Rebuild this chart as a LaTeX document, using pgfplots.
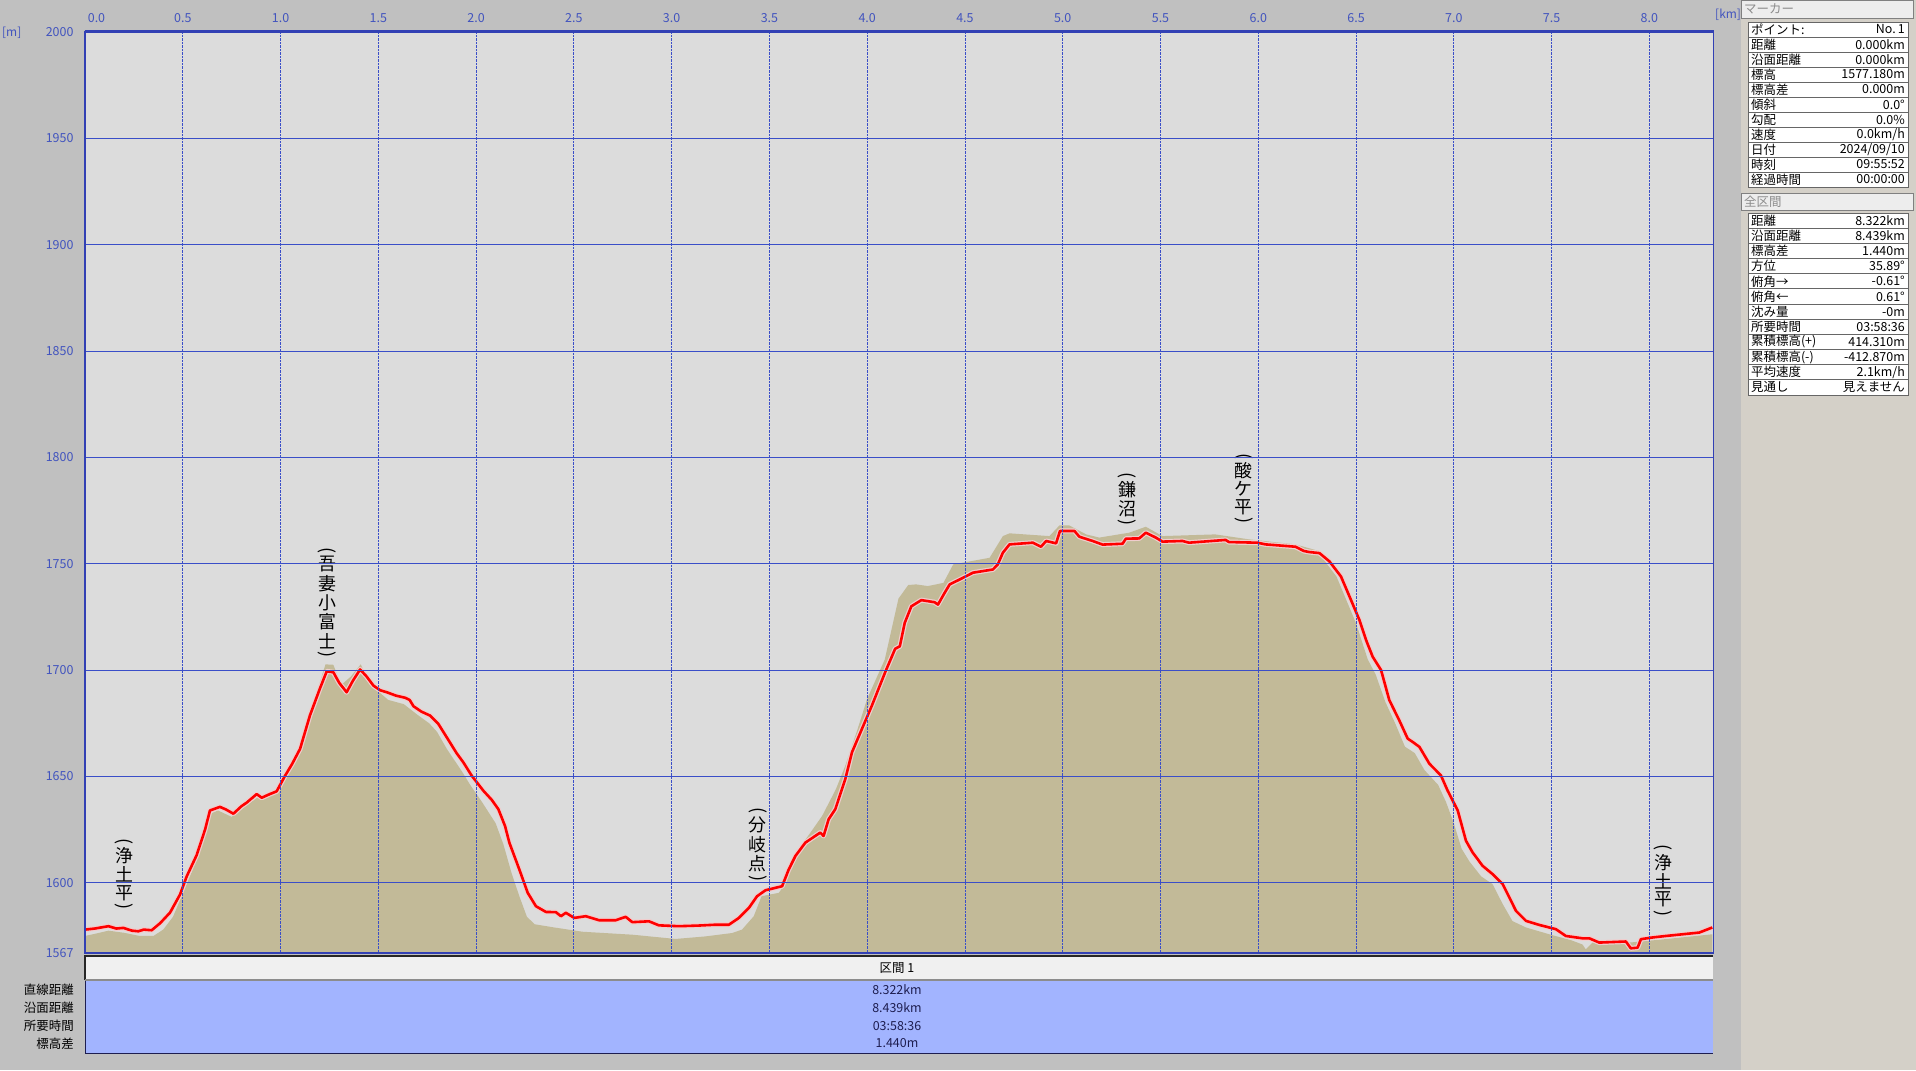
\documentclass[border=0pt]{standalone}
\usepackage{pgfplots}
\usepackage{pgfplotstable}
\pgfplotsset{compat=1.18}
\usepackage{graphicx}
\usepackage{fontspec}
\setmainfont{Noto Sans CJK JP}
\definecolor{bg}{RGB}{192,192,192}
\definecolor{panelbg}{RGB}{212,208,200}
\definecolor{plotbg}{RGB}{220,220,220}
\definecolor{gridblue}{RGB}{58,78,200}
\definecolor{axisblue}{RGB}{50,64,180}
\definecolor{ticklbl}{RGB}{66,84,190}
\definecolor{terrain}{RGB}{194,186,152}
\definecolor{bandblue}{RGB}{162,180,255}
\definecolor{navy}{RGB}{30,30,80}
\definecolor{halo}{RGB}{240,205,205}

\pgfplotstableread{
x y
0.000 1578.0
0.050 1578.5
0.120 1579.6
0.160 1578.5
0.196 1578.8
0.240 1577.5
0.273 1577.2
0.300 1578.0
0.341 1577.7
0.384 1581.0
0.435 1586.0
0.486 1594.5
0.520 1603.0
0.571 1613.0
0.614 1625.0
0.639 1634.0
0.690 1635.7
0.720 1634.5
0.759 1632.5
0.800 1636.0
0.827 1637.7
0.878 1641.7
0.904 1640.0
0.940 1641.5
0.980 1643.0
1.023 1650.3
1.060 1656.0
1.100 1663.0
1.150 1678.6
1.200 1691.0
1.236 1699.4
1.270 1699.0
1.300 1694.0
1.338 1689.6
1.370 1695.0
1.407 1700.3
1.440 1697.0
1.475 1692.7
1.510 1690.5
1.543 1689.6
1.590 1688.0
1.637 1687.0
1.660 1686.0
1.680 1683.0
1.720 1680.5
1.765 1678.6
1.807 1674.7
1.850 1668.4
1.900 1661.0
1.935 1656.6
1.978 1650.3
2.038 1643.2
2.080 1639.0
2.114 1634.6
2.148 1626.7
2.170 1618.9
2.221 1606.3
2.264 1595.3
2.306 1589.0
2.357 1586.3
2.408 1586.2
2.434 1584.3
2.459 1585.9
2.502 1583.5
2.561 1584.3
2.629 1582.4
2.714 1582.4
2.765 1584.0
2.799 1581.5
2.884 1581.9
2.935 1580.0
3.037 1579.6
3.139 1579.9
3.224 1580.3
3.293 1580.3
3.344 1583.5
3.395 1588.2
3.437 1593.7
3.480 1596.5
3.565 1598.4
3.599 1606.3
3.633 1612.6
3.684 1618.9
3.760 1623.6
3.777 1622.0
3.803 1629.9
3.837 1634.6
3.888 1648.7
3.922 1661.3
3.973 1672.3
4.024 1683.3
4.092 1699.0
4.143 1710.0
4.167 1711.2
4.192 1722.2
4.226 1730.0
4.277 1732.9
4.345 1731.9
4.362 1730.8
4.396 1736.3
4.422 1740.3
4.473 1742.6
4.541 1745.8
4.643 1747.3
4.668 1749.7
4.694 1755.2
4.728 1759.1
4.847 1759.9
4.889 1758.0
4.915 1760.7
4.966 1759.6
4.986 1765.4
5.060 1765.4
5.085 1762.7
5.153 1760.7
5.204 1759.0
5.306 1759.4
5.323 1761.8
5.391 1761.9
5.425 1764.6
5.476 1762.3
5.510 1760.4
5.612 1760.7
5.646 1759.9
5.833 1761.2
5.850 1760.2
5.995 1759.9
6.037 1759.1
6.190 1758.0
6.233 1756.0
6.261 1755.5
6.313 1755.0
6.364 1751.1
6.423 1744.0
6.474 1733.0
6.517 1723.6
6.551 1714.2
6.585 1706.3
6.628 1700.0
6.670 1685.9
6.721 1676.4
6.764 1667.8
6.790 1666.2
6.824 1663.9
6.875 1656.0
6.934 1650.5
6.968 1643.4
7.020 1634.0
7.062 1619.8
7.096 1614.3
7.147 1608.0
7.198 1604.1
7.250 1599.4
7.318 1586.8
7.369 1582.1
7.437 1580.2
7.522 1578.2
7.573 1575.0
7.658 1573.9
7.693 1573.9
7.744 1571.9
7.880 1572.4
7.905 1569.2
7.940 1569.5
7.957 1573.5
8.016 1574.3
8.084 1575.0
8.255 1576.6
8.322 1579.0
}\redtrack

\pgfplotstableread{
x y
0.000 1575.0
0.050 1576.0
0.120 1577.5
0.200 1576.5
0.280 1575.0
0.350 1575.0
0.400 1578.0
0.450 1584.0
0.500 1595.0
0.550 1606.0
0.600 1622.0
0.630 1632.0
0.680 1634.0
0.750 1631.0
0.820 1636.0
0.880 1640.0
0.980 1642.0
1.020 1649.0
1.100 1664.0
1.150 1680.0
1.200 1694.0
1.230 1702.7
1.270 1702.5
1.310 1693.0
1.360 1697.0
1.410 1702.7
1.450 1695.0
1.500 1690.0
1.550 1686.0
1.630 1684.0
1.700 1679.0
1.760 1675.0
1.800 1671.0
1.850 1663.0
1.930 1652.0
1.970 1646.0
2.030 1638.0
2.100 1628.0
2.140 1618.0
2.180 1605.0
2.220 1594.0
2.260 1584.0
2.300 1580.5
2.400 1579.0
2.544 1577.0
2.800 1575.6
3.020 1573.6
3.173 1574.8
3.310 1576.4
3.360 1578.0
3.420 1584.3
3.460 1593.7
3.548 1595.3
3.573 1598.4
3.620 1612.0
3.710 1623.6
3.770 1631.5
3.840 1644.0
3.888 1655.0
3.950 1672.0
4.000 1686.5
4.090 1705.0
4.160 1733.6
4.210 1740.0
4.250 1740.3
4.310 1739.5
4.390 1741.0
4.440 1749.7
4.626 1752.8
4.694 1763.0
4.728 1764.3
4.932 1763.0
4.983 1768.0
5.034 1768.0
5.120 1763.8
5.187 1762.3
5.340 1764.6
5.425 1767.4
5.510 1763.0
5.780 1763.8
5.950 1761.5
6.190 1759.1
6.310 1756.0
6.350 1750.0
6.400 1744.0
6.450 1733.0
6.500 1722.0
6.560 1705.0
6.600 1698.0
6.650 1685.0
6.700 1675.0
6.750 1664.0
6.800 1661.0
6.850 1653.0
6.920 1646.0
6.960 1638.0
7.000 1628.0
7.040 1616.0
7.080 1610.0
7.140 1603.0
7.198 1599.4
7.250 1590.0
7.300 1582.0
7.369 1579.0
7.488 1575.8
7.600 1573.0
7.658 1571.0
7.675 1568.7
7.710 1572.0
7.910 1572.0
8.080 1573.5
8.322 1575.8
}\terraintab

\newcommand{\vp}[1]{\rotatebox{-90}{#1}}
\newcommand{\prow}[3]{%
  \node[anchor=west, inner sep=0] at (1751,#1) {#2};
  \node[anchor=east, inner sep=0] at (1905,#1) {#3};}

\begin{document}
\begin{tikzpicture}[x=1bp,y=1bp]
\useasboundingbox (0,0) rectangle (1916,1070);
\fill[bg] (0,0) rectangle (1916,1070);
\fill[panelbg] (1741,0) rectangle (1916,1070);

\begin{axis}[
  at={(85bp,117bp)}, anchor=south west,
  width=1628.3bp, height=921bp, scale only axis,
  xmin=0, xmax=8.327, ymin=1567, ymax=2000,
  axis background/.style={fill=plotbg},
  xtick={0,0.5,1,1.5,2,2.5,3,3.5,4,4.5,5,5.5,6,6.5,7,7.5,8},
  xticklabels={\hspace*{23bp}0.0,0.5,1.0,1.5,2.0,2.5,3.0,3.5,4.0,4.5,5.0,5.5,6.0,6.5,7.0,7.5,8.0},
  ytick={1567,1600,1650,1700,1750,1800,1850,1900,1950,2000},
  yticklabels={1567,1600,1650,1700,1750,1800,1850,1900,1950,2000},
  xticklabel pos=upper,
  major tick length=0,
  grid=major,
  x grid style={gridblue, densely dotted, line width=0.9bp},
  y grid style={gridblue, line width=1bp},
  axis line style={axisblue, line width=1.5bp},
  tick label style={text=ticklbl, font=\fontsize{12.5}{12.5}\selectfont},
  xticklabel style={yshift=6bp},
  yticklabel style={xshift=-8bp},
  axis on top,
]
\addplot[fill=terrain, draw=none] table[x=x,y=y] {\terraintab} \closedcycle;
\addplot[draw=halo, line width=5bp, line join=round] table[x=x,y=y] {\redtrack};
\addplot[draw=red, line width=2.6bp, line join=round] table[x=x,y=y] {\redtrack};

\begin{scope}[every node/.style={anchor=north, inner sep=0, font=\fontsize{18}{19}\selectfont}]
\node at (axis cs:0.20,1621.1) {\shortstack{\vp{(}\\浄\\土\\平\\\vp{)}}};
\node at (axis cs:1.238,1757.9) {\shortstack{\vp{(}\\吾\\妻\\小\\富\\士\\\vp{)}}};
\node at (axis cs:3.44,1635.3) {\shortstack{\vp{(}\\分\\岐\\点\\\vp{)}}};
\node at (axis cs:5.33,1793.2) {\shortstack{\vp{(}\\鎌\\沼\\\vp{)}}};
\node at (axis cs:5.926,1802.1) {\shortstack{\vp{(}\\酸\\ケ\\平\\\vp{)}}};
\node at (axis cs:8.07,1617.9) {\shortstack{\vp{(}\\浄\\土\\平\\\vp{)}}};
\end{scope}
\end{axis}
\draw[axisblue, line width=3bp] (84.5,1038) -- (1714,1038);

\node[text=ticklbl, font=\fontsize{12}{12}\selectfont, anchor=west, inner sep=0] at (2,1037) {[m]};
\node[text=ticklbl, font=\fontsize{12}{12}\selectfont, anchor=west, inner sep=0] at (1715,1055) {[km]};

% bottom section table
\fill[white!94!black] (85,90) rectangle (1713,114);
\draw[black!85, line width=1.5bp] (85,90) -- (85,114) -- (1713,114);
\draw[black!45, line width=1.5bp] (85,90) -- (1713,90);
\fill[bandblue] (85,17) rectangle (1713,89.3);
\draw[navy, line width=1bp] (85,89.3) -- (85,17) -- (1713,17);
\begin{scope}[every node/.style={inner sep=0, font=\fontsize{12.5}{12.5}\selectfont}]
\node at (897,102) {区間 1};
\node[text=navy] at (897,80) {8.322km};
\node[text=navy] at (897,62) {8.439km};
\node[text=navy] at (897,44) {03:58:36};
\node[text=navy] at (897,26.5) {1.440m};
\node[anchor=east] at (74,80) {直線距離};
\node[anchor=east] at (74,62) {沿面距離};
\node[anchor=east] at (74,44) {所要時間};
\node[anchor=east] at (74,26.5) {標高差};
\end{scope}

% right panel
\filldraw[fill=white!93!black, draw=black!50] (1741,1070) rectangle (1913,1052);
\node[anchor=west, inner sep=0, text=black!45, font=\fontsize{12.5}{12.5}\selectfont] at (1744,1061) {マーカー};
\filldraw[fill=white, draw=black!60] (1748,1048) rectangle (1908,883);
\foreach \k in {1,...,10} {\draw[black!60, line width=0.8bp] (1748,1048-15*\k) -- (1908,1048-15*\k);}
\begin{scope}[every node/.style={font=\fontsize{12.5}{12.5}\selectfont}]
\prow{1040.5}{ポイント:}{No.\,1}
\prow{1025.5}{距離}{0.000km}
\prow{1010.5}{沿面距離}{0.000km}
\prow{995.5}{標高}{1577.180m}
\prow{980.5}{標高差}{0.000m}
\prow{965.5}{傾斜}{0.0°}
\prow{950.5}{勾配}{0.0\%}
\prow{935.5}{速度}{0.0km/h}
\prow{920.5}{日付}{2024/09/10}
\prow{905.5}{時刻}{09:55:52}
\prow{890.5}{経過時間}{00:00:00}
\end{scope}

\filldraw[fill=white!93!black, draw=black!50] (1741,877) rectangle (1913,860);
\node[anchor=west, inner sep=0, text=black!45, font=\fontsize{12.5}{12.5}\selectfont] at (1744,868.5) {全区間};
\filldraw[fill=white, draw=black!60] (1748,857) rectangle (1908,675);
\foreach \k in {1,...,11} {\draw[black!60, line width=0.8bp] (1748,857-15.17*\k) -- (1908,857-15.17*\k);}
\begin{scope}[every node/.style={font=\fontsize{12.5}{12.5}\selectfont}]
\prow{849.4}{距離}{8.322km}
\prow{834.2}{沿面距離}{8.439km}
\prow{819.1}{標高差}{1.440m}
\prow{803.9}{方位}{35.89°}
\prow{788.7}{俯角→}{-0.61°}
\prow{773.6}{俯角←}{0.61°}
\prow{758.4}{沈み量}{-0m}
\prow{743.3}{所要時間}{03:58:36}
\prow{728.1}{累積標高(+)}{414.310m}
\prow{712.9}{累積標高(-)}{-412.870m}
\prow{697.8}{平均速度}{2.1km/h}
\prow{682.6}{見通し}{見えません}
\end{scope}
\end{tikzpicture}
\end{document}
